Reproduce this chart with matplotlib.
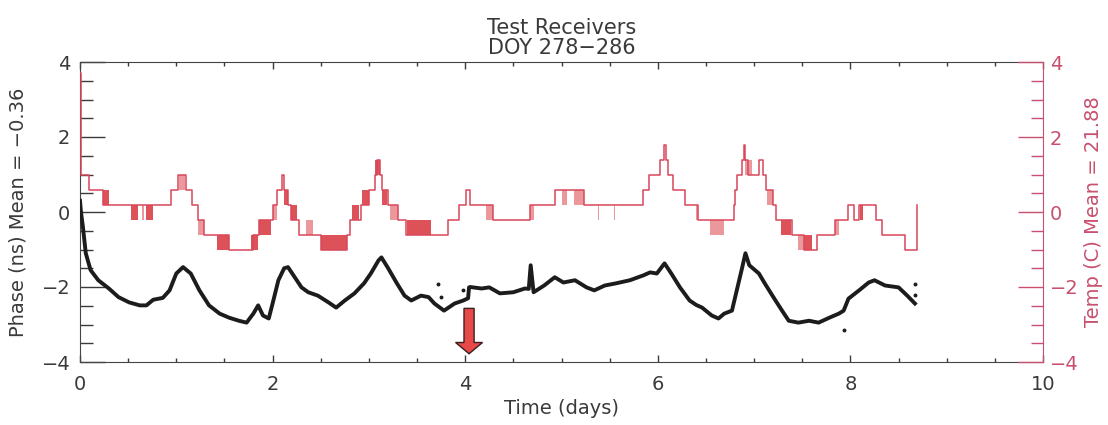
import matplotlib
matplotlib.use("Agg")
import matplotlib.pyplot as plt
from matplotlib.ticker import MultipleLocator
from matplotlib.patches import FancyArrow

#---------------------------- data ----------------------------

# temperature, step levels (value holds from t until the next t)
temp_t = [0.00, 0.01, 0.09, 0.24, 0.95, 1.02, 1.10, 1.16, 1.23, 1.29, 1.55, 1.80,
          1.86, 2.00, 2.05, 2.10, 2.12, 2.16, 2.19, 2.27, 2.50, 2.77, 2.80, 2.92,
          3.00, 3.06, 3.08, 3.12, 3.14, 3.20, 3.30, 3.39, 3.82, 3.94, 4.01, 4.05,
          4.29, 4.67, 4.93, 5.23, 5.85, 5.91, 6.02, 6.06, 6.08, 6.11, 6.16, 6.28,
          6.42, 6.79, 6.80, 6.82, 6.87, 6.89, 6.91, 6.94, 7.05, 7.09, 7.12, 7.20,
          7.23, 7.39, 7.52, 7.65, 7.84, 7.98, 8.04, 8.09, 8.27, 8.33, 8.57, 8.69]
temp_v = [3.7, 1.0, 0.6, 0.2, 0.6, 1.0, 0.6, 0.2, -0.2, -0.6, -1.0, -0.6,
          -0.2, 0.2, 0.6, 1.0, 0.6, 0.2, -0.2, -0.6, -1.0, -0.6, -0.2, 0.2,
          0.6, 1.0, 1.4, 1.0, 0.6, 0.2, -0.2, -0.6, -0.2, 0.2, 0.6, 0.2,
          -0.2, 0.2, 0.6, 0.2, 0.6, 1.0, 1.4, 1.8, 1.4, 1.0, 0.6, 0.2,
          -0.2, 0.2, 0.6, 1.0, 1.4, 1.8, 1.4, 1.0, 1.4, 1.0, 0.6, 0.2,
          -0.2, -0.6, -1.0, -0.6, -0.2, 0.2, -0.2, 0.2, -0.2, -0.6, -1.0, 0.2]

# stretches where the temperature flips fast between two levels (t0, t1, lo, hi)
dense_flicker = [(0.24, 0.30, 0.2, 0.6), (0.53, 0.60, -0.2, 0.2), (0.69, 0.76, -0.2, 0.2),
                 (1.42, 1.55, -1.0, -0.6), (1.78, 1.85, -1.0, -0.6), (1.86, 1.98, -0.6, -0.2),
                 (2.12, 2.16, 0.2, 0.6), (2.19, 2.25, -0.2, 0.2), (2.50, 2.77, -1.0, -0.6),
                 (2.82, 2.90, -0.2, 0.2), (2.93, 3.00, 0.2, 0.6), (3.06, 3.12, 1.0, 1.4),
                 (3.14, 3.19, 0.2, 0.6), (3.40, 3.64, -0.6, -0.2), (7.28, 7.38, -0.6, -0.2),
                 (7.52, 7.60, -1.0, -0.6), (8.10, 8.13, -0.2, 0.2)]
sparse_flicker = [(0.64, 0.66, -0.2, 0.2), (1.03, 1.09, 0.6, 1.0), (1.23, 1.29, -0.6, -0.2),
                  (2.00, 2.05, -0.2, 0.2), (2.35, 2.42, -0.6, -0.2), (3.22, 3.30, -0.2, 0.2),
                  (4.22, 4.29, -0.2, 0.2), (4.67, 4.71, -0.2, 0.2), (5.01, 5.06, 0.2, 0.6),
                  (5.13, 5.23, 0.2, 0.6), (5.38, 5.39, -0.2, 0.2), (5.55, 5.56, -0.2, 0.2),
                  (6.40, 6.42, -0.2, 0.2), (6.54, 6.69, -0.6, -0.2), (6.91, 6.98, 1.0, 1.4),
                  (7.13, 7.20, 0.2, 0.6), (7.46, 7.52, -1.0, -0.6), (7.84, 7.88, -0.6, -0.2)]

# phase
phase_t = [0.00, 0.01, 0.03, 0.06, 0.11, 0.19, 0.30, 0.40, 0.51, 0.62, 0.69, 0.76,
           0.86, 0.93, 1.00, 1.07, 1.15, 1.24, 1.34, 1.45, 1.55, 1.65, 1.73, 1.80,
           1.85, 1.90, 1.96, 2.00, 2.06, 2.12, 2.16, 2.23, 2.30, 2.37, 2.47, 2.58,
           2.66, 2.75, 2.85, 2.95, 3.02, 3.10, 3.13, 3.20, 3.29, 3.37, 3.44, 3.54,
           3.62, 3.68, 3.78, 3.89, 3.98, 4.03, 4.04, 4.05, 4.17, 4.25, 4.36, 4.50,
           4.62, 4.66, 4.68, 4.71, 4.82, 4.93, 5.02, 5.14, 5.26, 5.34, 5.45, 5.57,
           5.71, 5.85, 5.92, 5.99, 6.07, 6.14, 6.23, 6.33, 6.40, 6.46, 6.56, 6.63,
           6.69, 6.77, 6.82, 6.87, 6.91, 6.95, 7.05, 7.11, 7.20, 7.29, 7.36, 7.46,
           7.57, 7.67, 7.78, 7.88, 7.93, 7.98, 8.09, 8.19, 8.25, 8.36, 8.50, 8.59, 8.67]
phase_v = [0.30, 0.00, -0.39, -1.10, -1.55, -1.82, -2.04, -2.27, -2.41, -2.49, -2.49, -2.34,
           -2.29, -2.09, -1.64, -1.47, -1.64, -2.09, -2.49, -2.71, -2.82, -2.90, -2.95, -2.71,
           -2.49, -2.76, -2.84, -2.44, -1.82, -1.50, -1.47, -1.74, -2.01, -2.14, -2.23, -2.41,
           -2.55, -2.36, -2.17, -1.90, -1.64, -1.29, -1.21, -1.50, -1.90, -2.23, -2.36, -2.23,
           -2.27, -2.44, -2.63, -2.44, -2.36, -2.30, -2.01, -2.00, -2.04, -2.01, -2.17, -2.14,
           -2.04, -2.05, -1.42, -2.14, -1.96, -1.74, -1.88, -1.82, -2.01, -2.09, -1.96, -1.90,
           -1.82, -1.69, -1.61, -1.64, -1.37, -1.64, -2.01, -2.36, -2.48, -2.55, -2.76, -2.84,
           -2.71, -2.63, -2.09, -1.55, -1.10, -1.42, -1.64, -1.90, -2.27, -2.63, -2.90, -2.95,
           -2.90, -2.95, -2.82, -2.71, -2.63, -2.31, -2.09, -1.88, -1.82, -1.96, -2.01, -2.23, -2.44]

# stray phase points
dot_t = [3.72, 3.75, 3.98, 7.93, 8.67, 8.67]
dot_v = [-1.93, -2.27, -2.09, -3.14, -1.93, -2.20]

title = "Test Receivers\nDOY 278\u2212286"
left_label = "Phase (ns) Mean = \u22120.36"
right_label = "Temp (C) Mean = 21.88"
x_label = "Time (days)"
arrow_day = 4.04

#---------------------------- figure ----------------------------

txt = '#3a3a3a'
pink = '#c8506e'
red = '#d8323c'

fig = plt.figure(figsize=(11.08, 4.25), dpi=100)
ax = fig.add_axes([80/1108, 1-362/425, (1043-80)/1108, 300/425])

ax.plot(temp_t, temp_v, drawstyle='steps-post', color='#d9475a', lw=1.1, zorder=3)
for t0, t1, lo, hi in dense_flicker:
    ax.fill_between([t0, t1], [lo, lo], [hi, hi], color=red, alpha=0.85, lw=0, zorder=2)
for t0, t1, lo, hi in sparse_flicker:
    ax.fill_between([t0, t1], [lo, lo], [hi, hi], color=red, alpha=0.5, lw=0, zorder=2)

ax.plot(phase_t, phase_v, color='#1c1c1c', lw=2.8, zorder=4)
ax.plot(dot_t, dot_v, 'o', color='#1c1c1c', ms=1.8, zorder=4)

ax.add_patch(FancyArrow(arrow_day, -2.57, 0, -1.21, width=0.105, head_width=0.28,
                        head_length=0.3, length_includes_head=True,
                        facecolor='#e84848', edgecolor='#3a2020', lw=1.0, zorder=5))

ax.set_xlim(0, 10)
ax.set_ylim(-4, 4)
ax.xaxis.set_major_locator(MultipleLocator(2))
ax.xaxis.set_minor_locator(MultipleLocator(0.5))
ax.yaxis.set_major_locator(MultipleLocator(2))
ax.yaxis.set_minor_locator(MultipleLocator(0.5))
ax.tick_params(axis='x', which='major', direction='in', length=5, width=1,
               top=True, pad=9, labelsize=14, colors=txt)
ax.tick_params(axis='x', which='minor', direction='in', length=3, width=1, top=True, color=txt)
ax.tick_params(axis='y', which='major', direction='in', length=18, width=1,
               right=False, pad=7, labelsize=14, colors=txt)
ax.tick_params(axis='y', which='minor', direction='in', length=9, width=1, right=False, color=txt)
for s in ['left', 'bottom', 'top']:
    ax.spines[s].set_color('#444444')
ax.spines['right'].set_visible(False)

ax.set_xlabel(x_label, fontsize=14, color=txt, labelpad=4)
ax.set_ylabel(left_label, fontsize=14, color=txt, labelpad=10)
ax.set_title(title, fontsize=15, color=txt, linespacing=1.0, pad=6)

ax2 = ax.twinx()
ax2.set_ylim(-4, 4)
ax2.yaxis.set_major_locator(MultipleLocator(2))
ax2.yaxis.set_minor_locator(MultipleLocator(0.5))
ax2.tick_params(axis='y', which='major', direction='in', length=18, width=1,
                pad=5, labelsize=14, colors=pink)
ax2.tick_params(axis='y', which='minor', direction='in', length=9, width=1, color=pink)
ax2.spines['right'].set_color(pink)
for s in ['left', 'bottom', 'top']:
    ax2.spines[s].set_visible(False)
ax2.set_ylabel(right_label, fontsize=14, color=pink, labelpad=4)

fig.savefig("out.png", dpi=100, facecolor='white')
